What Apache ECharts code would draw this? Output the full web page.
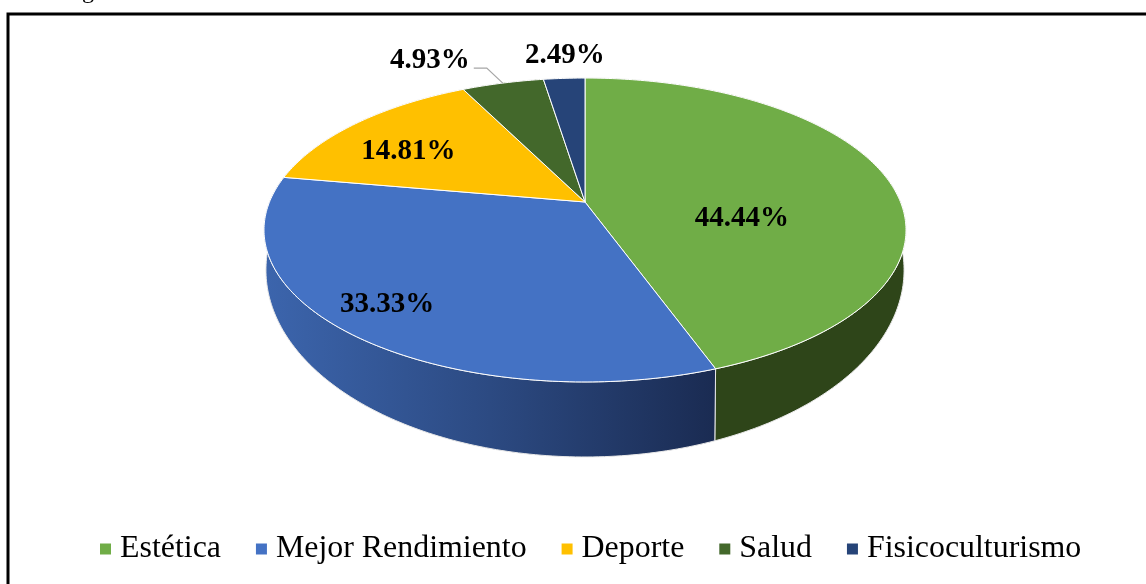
<!DOCTYPE html>
<html>
<head>
<meta charset="utf-8">
<style>html,body{margin:0;padding:0;background:#fff;overflow:hidden}#c{width:1146px;height:584px}</style>
<script src="https://cdn.jsdelivr.net/npm/echarts@6/dist/echarts.min.js"></script>
</head>
<body>
<div id="c"></div>
<script>
// Data
const categories = ['Estética', 'Mejor Rendimiento', 'Deporte', 'Salud', 'Fisicoculturismo'];
const values = [44.44, 33.33, 14.81, 4.93, 2.49];
const valueLabels = ['44.44%', '33.33%', '14.81%', '4.93%', '2.49%'];

// Styling
const topColors = ['#70ad47', '#4472c4', '#ffc000', '#43682b', '#264478'];
const sideColors = ['#2e4519', null, '#7f6000', '#223516', '#13223c'];
const labelRadius = [0.5, 0.85, 0.7, 1.25, 1.2];
const labelNudge = [[4, 29], [-2, -6], [-12, 6], [-56, 2], [4, -3]];
const FONT = '"Liberation Serif", "Times New Roman", serif';

// Perspective projection of the pie disc: top face and lower rim
const CX = 585, K = 0.1842;
const TOP = { y0: 202, a: 146.8, b: 315.5 };
const RIM = { y0: 235.6, a: 180.6, b: 313.6 };
function project(face, angle, r) {
  const s = Math.sin(angle), c = Math.cos(angle), w = 1 + K * r * c;
  return [CX + face.b * r * s / w, face.y0 - face.a * r * c / w];
}
const total = values.reduce((p, v) => p + v, 0);
const starts = [];
values.reduce((acc, v, i) => { starts[i] = acc; return acc + v; }, 0);
const toAngle = v => v / total * Math.PI * 2;

function arc(face, a0, a1) {
  const n = Math.max(4, Math.ceil((a1 - a0) / 0.015));
  const pts = [];
  for (let i = 0; i <= n; i++) pts.push(project(face, a0 + (a1 - a0) * i / n, 1));
  return pts;
}

function makeRender(idx) {
  return function (params, api) {
    const a0 = toAngle(starts[idx]);
    const a1 = toAngle(starts[idx] + api.value(0));
    const mid = (a0 + a1) / 2;
    const topArc = arc(TOP, a0, a1);
    const rimArc = arc(RIM, a0, a1);
    const fill = sideColors[idx] || new echarts.graphic.LinearGradient(0, 0, 1, 0, [
      { offset: 0, color: '#3c65ad' },
      { offset: 0.5, color: '#2c4a82' },
      { offset: 1, color: '#1a2b52' }
    ]);
    const children = [
      {
        type: 'polygon', z2: 1 + (idx === 0 || idx === 1 ? 2 : 0), silent: true,
        shape: { points: topArc.concat(rimArc.slice().reverse()) },
        style: { fill: fill, stroke: '#e8e8e8', lineWidth: 1 }
      },
      {
        type: 'polygon', z2: 10, silent: true,
        shape: { points: [project(TOP, 0, 0)].concat(topArc) },
        style: { fill: topColors[idx], stroke: '#ffffff', lineWidth: 1 }
      }
    ];
    const anchor = project(TOP, mid, labelRadius[idx]);
    children.push({
      type: 'text', z2: 30, silent: true,
      style: {
        text: valueLabels[idx], x: anchor[0] + labelNudge[idx][0], y: anchor[1] + labelNudge[idx][1],
        font: 'bold 29px ' + FONT, fill: '#000', align: 'center', verticalAlign: 'middle'
      }
    });
    if (idx === 3) {
      const e = project(TOP, mid, 1);
      children.push({
        type: 'polyline', z2: 20, silent: true,
        shape: { points: [e, [e[0] - 16, e[1] - 15], [e[0] - 29, e[1] - 15]] },
        style: { fill: 'none', stroke: '#a6a6a6', lineWidth: 1.2 }
      });
    }
    return { type: 'group', children: children };
  };
}

const chart = echarts.init(document.getElementById('c'), null, { renderer: 'canvas' });
chart.setOption({
  animation: false,
  backgroundColor: '#ffffff',
  graphic: [
    { type: 'rect', silent: true, shape: { x: 8, y: 14, width: 1300, height: 800 },
      style: { fill: 'none', stroke: '#000', lineWidth: 3 } },
    { type: 'text', silent: true, x: 62, y: -20,
      style: { text: 'Figura', font: '24px ' + FONT, fill: '#000' } }
  ],
  legend: {
    left: 95, top: 528, icon: 'rect', itemWidth: 11, itemHeight: 11, itemGap: 35,
    selectedMode: false,
    data: categories,
    textStyle: { fontFamily: FONT, fontSize: 31.9, color: '#000', padding: [0, 0, 0, 4] }
  },
  series: categories.map((name, i) => ({
    type: 'custom', name: name, coordinateSystem: 'none',
    itemStyle: { color: topColors[i] },
    renderItem: makeRender(i),
    data: [values[i]]
  }))
});
</script>
</body>
</html>
